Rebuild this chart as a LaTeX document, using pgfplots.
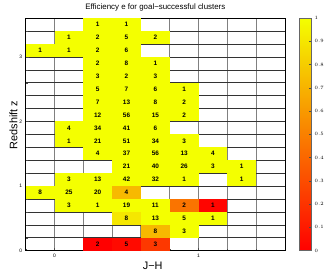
\documentclass[border=0pt]{standalone}
\usepackage{pgfplots}
\pgfplotsset{compat=1.18}
\usepackage{pgfplotstable}
\usepackage{fontspec}
\setmainfont{Liberation Sans}
\pgfdeclareplotmark{cellbox}{\pgfpathrectangle{\pgfpoint{-14.56pt}{-6.53pt}}{\pgfpoint{29.11pt}{13.06pt}}\pgfusepathqfill}
\pgfplotstableread{
xx yy eff cnt
0.3 3.5 1 1
0.5 3.5 1 1
0.1 3.3 1 1
0.3 3.3 1 2
0.5 3.3 1 5
0.7 3.3 1 2
-0.1 3.1 1 1
0.1 3.1 1 1
0.3 3.1 1 2
0.5 3.1 1 6
0.3 2.9 1 2
0.5 2.9 1 8
0.7 2.9 1 1
0.3 2.7 1 3
0.5 2.7 1 2
0.7 2.7 1 3
0.3 2.5 1 5
0.5 2.5 1 7
0.7 2.5 1 6
0.9 2.5 1 1
0.3 2.3 1 7
0.5 2.3 1 13
0.7 2.3 1 8
0.9 2.3 1 2
0.3 2.1 1 12
0.5 2.1 1 56
0.7 2.1 1 15
0.9 2.1 1 2
0.1 1.9 1 4
0.3 1.9 1 34
0.5 1.9 1 41
0.7 1.9 1 6
0.1 1.7 1 1
0.3 1.7 1 21
0.5 1.7 1 51
0.7 1.7 1 34
0.9 1.7 1 3
0.3 1.5 1 4
0.5 1.5 1 37
0.7 1.5 1 56
0.9 1.5 1 13
1.1 1.5 1 4
0.5 1.3 1 21
0.7 1.3 1 40
0.9 1.3 1 26
1.1 1.3 1 3
1.3 1.3 1 1
0.1 1.1 1 3
0.3 1.1 1 13
0.5 1.1 1 42
0.7 1.1 1 32
0.9 1.1 1 1
1.3 1.1 1 1
-0.1 0.9 1 8
0.1 0.9 1 25
0.3 0.9 1 20
0.5 0.9 0.72 4
0.1 0.7 1 3
0.3 0.7 1 1
0.5 0.7 1 19
0.7 0.7 1 11
0.9 0.7 0.45 2
1.1 0.7 0.02 1
0.5 0.5 0.9 8
0.7 0.5 1 13
0.9 0.5 1 5
1.1 0.5 1 1
0.7 0.3 0.72 8
0.9 0.3 1 3
0.3 0.1 0 2
0.5 0.1 0.04 5
0.7 0.1 0.22 3
}\cells
\begin{document}
\begin{tikzpicture}
\begin{axis}[
  scale only axis, width=262pt, height=235pt,
  xmin=-0.2, xmax=1.6, ymin=0, ymax=3.6,
  clip=false,
  point meta min=0, point meta max=1,
  colormap={ry}{rgb255=(255,0,0) rgb255=(244,255,0)},
  xtick={0,1}, ytick={0,1,2,3},
  minor xtick={-0.2,0,0.2,0.4,0.6,0.8,1,1.2,1.4,1.6},
  minor ytick={0,0.2,0.4,0.6,0.8,1,1.2,1.4,1.6,1.8,2,2.2,2.4,2.6,2.8,3,3.2,3.4,3.6},
  xmajorgrids, xminorgrids, ymajorgrids, yminorgrids,
  major grid style={line width=0.7pt},
  minor grid style={line width=0.7pt},
  x grid style={black!50, line width=0.9pt},
  y grid style={black!80, line width=0.6pt},
  tick align=inside, major tick length=3pt, minor tick length=2pt,
  xtick pos=bottom, ytick pos=left,
  tick style={black!70, line width=0.4pt},
  axis line style={black, line width=0.8pt},
  axis on top,
  tick label style={font=\fontsize{5}{5}\selectfont},
  /pgf/number format/assume math mode=true,
  title={Efficiency e for goal−successful clusters},
  title style={font=\fontsize{8}{9}\selectfont, at={(0.5,1)}, yshift=-2pt},
  xlabel={J−H}, ylabel={Redshift z},
  label style={font=\fontsize{11}{12}\selectfont},
  xlabel style={at={(axis description cs:0.49,0)}, anchor=north, inner sep=0pt, yshift=-11pt},
  ylabel style={at={(axis description cs:0,0.54)}, anchor=south, inner sep=0pt, yshift=8pt},
  colorbar,
  colorbar style={
    width=12pt, at={(parent axis.north east)}, anchor=north west, xshift=6pt,
    ytick={0,0.1,0.2,0.3,0.4,0.5,0.6,0.7,0.8,0.9,1},
    yticklabel style={font=\fontsize{5}{5}\selectfont, /pgf/number format/fixed},
    tick align=inside, major tick length=2pt, ytick pos=right,
    axis line style={black!60, line width=0.5pt},
  },
]
\addplot[scatter, only marks, mark=cellbox, point meta=explicit,
  scatter/use mapped color={fill=mapped color, draw=mapped color},
] table[x=xx, y=yy, meta=eff] {\cells};
\addplot[only marks, mark=none,
  point meta=explicit symbolic,
  nodes near coords,
  nodes near coords align={center},
  every node near coord/.append style={font=\bfseries\fontsize{6.5}{6.5}\selectfont, text=black, anchor=center, inner sep=0pt},
] table[x=xx, y=yy, meta=cnt] {\cells};
\path (axis description cs:-0.0992,-0.1106) (axis description cs:1.1489,1.0766);
\end{axis}
\end{tikzpicture}
\end{document}
